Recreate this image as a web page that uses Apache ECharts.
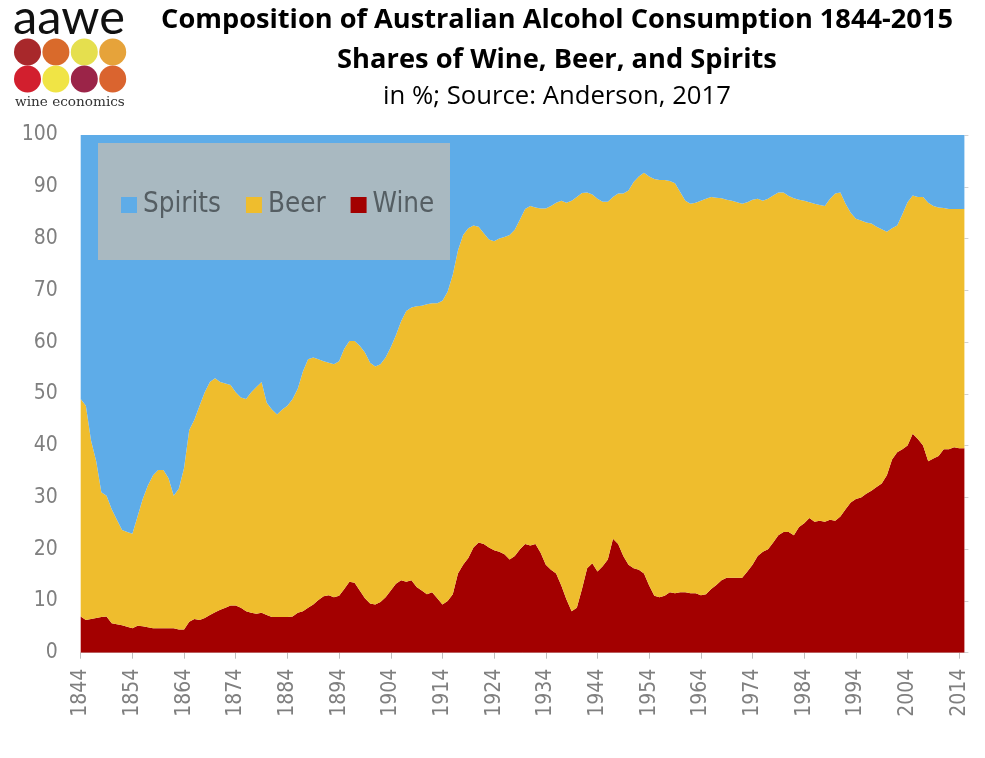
<!DOCTYPE html>
<html>
<head>
<meta charset="utf-8">
<script src="https://cdn.jsdelivr.net/npm/echarts@6/dist/echarts.min.js"></script>
<style>
html,body{margin:0;padding:0;background:#fff;}
#chart{width:985px;height:758px;}
</style>
</head>
<body>
<div id="chart"></div>
<script>
// ---- DATA ----
const firstYear = 1844, lastYear = 2015;
const years = [];
for (let y = firstYear; y <= lastYear; y++) years.push(String(y));

const wine = [
7.0,6.3,6.5,6.7,6.9,7.0,5.7,5.5,5.3,5.0,
4.7,5.2,5.1,4.9,4.7,4.7,4.7,4.7,4.7,4.5,
4.5,6.0,6.5,6.3,6.7,7.3,7.8,8.3,8.7,9.1,
9.1,8.7,8.0,7.7,7.5,7.7,7.3,6.9,6.9,6.9,
6.9,7.0,7.7,8.0,8.7,9.3,10.2,10.9,11.1,10.7,
11.0,12.3,13.7,13.5,12.0,10.5,9.5,9.3,9.8,10.7,
12.0,13.3,14.0,13.7,14.0,12.7,12.0,11.3,11.7,10.5,
9.3,10.0,11.3,15.3,17.0,18.3,20.3,21.3,21.0,20.3,
19.8,19.5,19.0,18.0,18.7,20.0,21.0,20.7,21.0,19.3,
17.0,16.0,15.3,13.0,10.3,8.0,8.7,12.3,16.3,17.3,
15.7,16.7,18.0,22.0,21.0,18.7,17.0,16.3,16.0,15.3,
13.0,11.0,10.7,11.0,11.7,11.5,11.7,11.7,11.5,11.5,
11.1,11.3,12.3,13.1,14.0,14.5,14.5,14.5,14.5,15.7,
17.0,18.7,19.5,20.0,21.3,22.7,23.3,23.3,22.7,24.3,
25.0,26.0,25.3,25.5,25.3,25.7,25.5,26.3,27.7,29.0,
29.7,30.0,30.7,31.3,32.0,32.7,34.3,37.3,38.7,39.3,
40.0,42.3,41.3,40.0,37.0,37.5,38.0,39.3,39.3,39.7,
39.5,39.5
];
const beer = [
42.0,41.4,34.5,30.3,24.1,23.3,22.0,20.2,18.4,18.3,
18.3,21.1,24.6,27.4,29.6,30.6,30.6,29.0,25.6,27.2,
31.2,37.0,38.5,41.4,43.6,45.0,45.2,44.0,43.3,42.6,
41.2,40.6,41.0,42.6,43.8,44.6,41.0,40.1,39.1,40.1,
40.8,42.0,43.3,46.3,48.0,47.7,46.5,45.4,44.9,45.0,
45.3,46.4,46.5,46.7,47.3,47.5,46.5,46.0,45.9,46.3,
47.0,48.0,50.0,52.3,52.7,54.2,55.0,56.0,55.8,57.0,
58.7,59.7,61.7,62.4,63.7,63.7,62.2,61.0,60.0,59.5,
59.7,60.5,61.3,62.7,63.0,63.7,64.7,65.6,65.0,66.5,
68.8,70.3,71.6,74.3,76.6,79.3,79.3,76.5,72.6,71.2,
72.0,70.4,69.1,66.0,67.7,70.0,72.3,74.6,76.0,77.4,
79.0,80.5,80.6,80.3,79.4,79.2,77.3,75.6,75.2,75.4,
76.2,76.4,75.7,74.8,73.8,73.0,72.8,72.5,72.2,71.3,
70.5,69.0,67.8,67.7,67.0,66.2,65.6,64.9,65.1,63.2,
62.3,61.0,61.4,61.0,61.0,62.0,63.2,62.6,59.0,56.0,
54.1,53.5,52.4,51.6,50.3,49.1,47.0,44.7,43.8,45.4,
47.0,46.0,46.7,48.0,49.9,48.8,48.0,46.6,46.4,46.0,
46.2,46.2
];
const spirits = [
51.0,52.3,59.0,63.0,69.0,69.7,72.3,74.3,76.3,76.7,
77.0,73.7,70.3,67.7,65.7,64.7,64.7,66.3,69.7,68.3,
64.3,57.0,55.0,52.3,49.7,47.7,47.0,47.7,48.0,48.3,
49.7,50.7,51.0,49.7,48.7,47.7,51.7,53.0,54.0,53.0,
52.3,51.0,49.0,45.7,43.3,43.0,43.3,43.7,44.0,44.3,
43.7,41.3,39.8,39.8,40.7,42.0,44.0,44.7,44.3,43.0,
41.0,38.7,36.0,34.0,33.3,33.1,33.0,32.7,32.5,32.5,
32.0,30.3,27.0,22.3,19.3,18.0,17.5,17.7,19.0,20.2,
20.5,20.0,19.7,19.3,18.3,16.3,14.3,13.7,14.0,14.2,
14.2,13.7,13.1,12.7,13.1,12.7,12.0,11.2,11.1,11.5,
12.3,12.9,12.9,12.0,11.3,11.3,10.7,9.1,8.0,7.3,
8.0,8.5,8.7,8.7,8.9,9.3,11.0,12.7,13.3,13.1,
12.7,12.3,12.0,12.1,12.2,12.5,12.7,13.0,13.3,13.0,
12.5,12.3,12.7,12.3,11.7,11.1,11.1,11.8,12.2,12.5,
12.7,13.0,13.3,13.5,13.7,12.3,11.3,11.1,13.3,15.0,
16.2,16.5,16.9,17.1,17.7,18.2,18.7,18.0,17.5,15.3,
13.0,11.7,12.0,12.0,13.1,13.7,14.0,14.1,14.3,14.3,
14.3,14.3
];
const seriesNames = ['Spirits', 'Beer', 'Wine'];
const titleLines = [
  'Composition of Australian Alcohol Consumption 1844-2015',
  'Shares of Wine, Beer, and Spirits',
  'in %; Source: Anderson, 2017'
];

// ---- helpers ----
const cv = document.createElement('canvas').getContext('2d');
function fitSize(text, weight, family, target) {
  cv.font = weight + ' 100px ' + family;
  return 100 * target / cv.measureText(text).width;
}
const TF = '"Open Sans", "Liberation Sans", sans-serif';
const t1 = fitSize(titleLines[0], 'bold', TF, 792);
const t2 = fitSize(titleLines[1], 'bold', TF, 440);
const t3 = fitSize(titleLines[2], 'normal', TF, 348);
const LF = '"DejaVu Sans Condensed", "DejaVu Sans", sans-serif';
const lfs = fitSize('Spirits', 'normal', LF, 78);
const AF = '"DejaVu Sans Condensed", "DejaVu Sans", sans-serif';
const logoF = 'Lato, "Open Sans", sans-serif';
const aaweSize = fitSize('aawe', 'normal', logoF, 112);
const weF = '"DejaVu Serif", "Liberation Serif", serif';
const weSize = fitSize('wine economics', 'normal', weF, 110);

const circleColors = ['#A8282B','#D96A2B','#E5DF4E','#E6A33A','#D21F2E','#F0E445','#9B2448','#DA642F'];
const circleEls = circleColors.map((c, i) => ({
  type: 'circle', z: 10,
  shape: { cx: 27.5 + (i % 4) * 28.4, cy: i < 4 ? 52 : 79, r: 13.5 },
  style: { fill: c }
}));

const chart = echarts.init(document.getElementById('chart'), null, { renderer: 'canvas' });
chart.setOption({
  animation: false,
  backgroundColor: '#ffffff',
  grid: { left: 80.7, right: 20.6, top: 135, bottom: 105.3, containLabel: false },
  legend: {
    data: seriesNames,
    left: 121, top: 189,
    padding: 0,
    itemWidth: 16, itemHeight: 16, itemGap: 25,
    icon: 'rect',
    textStyle: { color: '#555E63', fontSize: lfs, fontFamily: LF, lineHeight: 32, padding: [0,0,0,1] },
    z: 12
  },
  xAxis: {
    type: 'category',
    data: years,
    boundaryGap: false,
    axisLine: { show: true, lineStyle: { color: '#D9D9D9', width: 1 } },
    axisTick: { show: true, interval: 9, length: 6, lineStyle: { color: '#BFBFBF' } },
    axisLabel: { interval: 9, rotate: 90, margin: 16, color: '#7F7F7F', fontSize: 21, fontFamily: AF },
    splitLine: { show: false }
  },
  yAxis: [{
    type: 'value', min: 0, max: 100, interval: 10,
    axisLine: { show: false }, axisTick: { show: false },
    axisLabel: { margin: 23, color: '#7F7F7F', fontSize: 21, fontFamily: AF },
    splitLine: { show: false }
  }, {
    type: 'value', min: 0, max: 100, interval: 10, position: 'right',
    axisLine: { show: false },
    axisTick: { show: true, length: 4, lineStyle: { color: '#D0D0D0' } },
    axisLabel: { show: false }, splitLine: { show: false }
  }],
  series: [
    { name: 'Wine', type: 'line', stack: 'total', data: wine, symbol: 'none', lineStyle: { width: 0 }, areaStyle: { color: '#A30000', opacity: 1 }, itemStyle: { color: '#A30000' } },
    { name: 'Beer', type: 'line', stack: 'total', data: beer, symbol: 'none', lineStyle: { width: 0 }, areaStyle: { color: '#EFBD2D', opacity: 1 }, itemStyle: { color: '#EFBD2D' } },
    { name: 'Spirits', type: 'line', stack: 'total', data: spirits, symbol: 'none', lineStyle: { width: 0 }, areaStyle: { color: '#5EACE8', opacity: 1 }, itemStyle: { color: '#5EACE8' } }
  ],
  graphic: [
    { type: 'rect', z: 11, shape: { x: 98, y: 143, width: 352, height: 117 }, style: { fill: '#A9B9C1' } },
    { type: 'text', z: 10, x: 557, y: 20, style: { text: titleLines[0], font: 'bold ' + t1 + 'px ' + TF, fill: '#000', textAlign: 'center', textVerticalAlign: 'middle' } },
    { type: 'text', z: 10, x: 557, y: 60, style: { text: titleLines[1], font: 'bold ' + t2 + 'px ' + TF, fill: '#000', textAlign: 'center', textVerticalAlign: 'middle' } },
    { type: 'text', z: 10, x: 557, y: 97, style: { text: titleLines[2], font: 'normal ' + t3 + 'px ' + TF, fill: '#000', textAlign: 'center', textVerticalAlign: 'middle' } },
    { type: 'text', z: 10, x: 13, y: 18, style: { text: 'aawe', font: 'normal ' + aaweSize + 'px ' + logoF, fill: '#111', textAlign: 'left', textVerticalAlign: 'middle' } },
    { type: 'text', z: 10, x: 15, y: 102, style: { text: 'wine economics', font: 'normal ' + weSize + 'px ' + weF, fill: '#333', textAlign: 'left', textVerticalAlign: 'middle' } }
  ].concat(circleEls)
});
</script>
</body>
</html>
